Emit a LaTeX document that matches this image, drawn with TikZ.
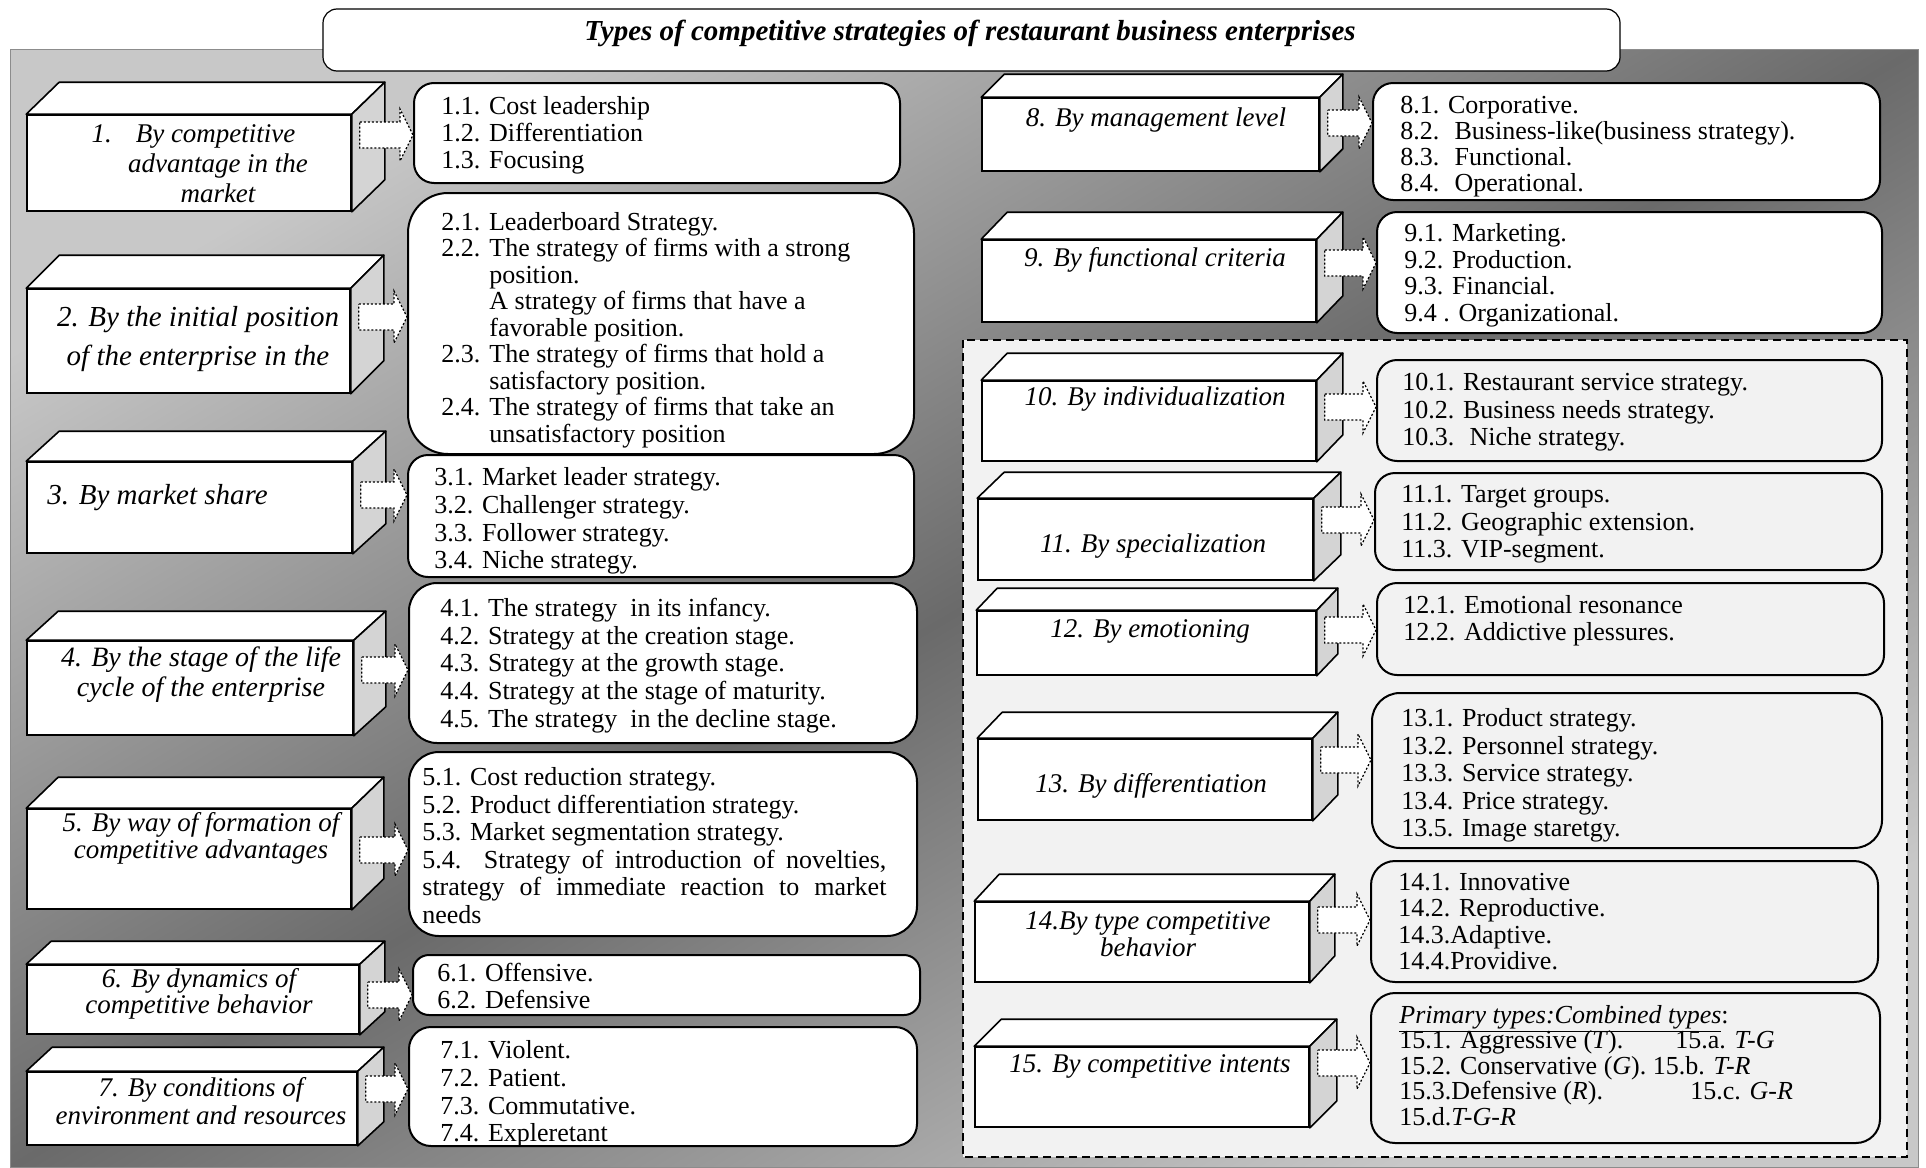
\documentclass[tikz,border=0pt]{standalone}
\usepackage{fontspec}
\setmainfont{Liberation Serif}
\usetikzlibrary{calc,fit}

\definecolor{bglight}{RGB}{200,200,200}
\definecolor{bgdark}{RGB}{106,106,106}
\definecolor{sidegray}{RGB}{212,212,212}
\definecolor{panelgray}{RGB}{242,242,242}

\pgfdeclarehorizontalshading{bgshade}{100bp}{color(0bp)=(bglight); color(25bp)=(bglight); color(50bp)=(bgdark); color(75bp)=(bglight); color(100bp)=(bglight)}

% dotted block arrow from a criterion box to its list
\newcommand{\fatarrow}[3]{%
  \draw[fatarr] ($(#1.east |- 0,#3)+(8,-13)$) -- ($(#2.west |- 0,#3)+(-13,-13)$)
    -- ++(0,-13) -- (#2.west |- 0,#3) -- ++(-13,26) -- ++(0,-13)
    -- ($(#1.east |- 0,#3)+(8,13)$) -- cycle;}

\begin{document}
\begin{tikzpicture}[x=0.5pt,y=-0.5pt]

%
% Styles
%
\tikzstyle{front}   = [draw, fill=white, line width=0.8pt, inner sep=0pt]
\tikzstyle{face}    = [draw, fill=white, line width=0.8pt, line join=round]
\tikzstyle{side}    = [draw, fill=sidegray, line width=0.8pt, line join=round]
\tikzstyle{itembox} = [draw, fill=white, line width=1pt, rounded corners=10pt, inner sep=0pt]
\tikzstyle{greybox} = [itembox, fill=panelgray]
\tikzstyle{crit}    = [align=center, inner sep=0pt, font=\fontsize{13.5}{13.5}\selectfont\itshape]
\tikzstyle{fatarr}  = [draw, fill=white, line width=0.6pt, dash pattern=on 1pt off 1pt]
\tikzset{items/.style={anchor=north west, align=left, inner sep=0pt, font=\fontsize{13}{#1}\selectfont},
         items/.default=13.8pt}

\useasboundingbox (0,0) rectangle (1926,1167);

% background and panel
\shade[shading=bgshade, shading angle=-59.6, draw=black!45] (10,49) rectangle (1918,1167);
\draw[fill=panelgray, line width=0.7pt, dash pattern=on 4pt off 2.5pt] (963,340) rectangle (1907,1157);

\node[draw, fill=white, rounded corners=7pt, line width=0.6pt, inner sep=0pt, fit={(323,9) (1620,71)}] (head) {};
\node[inner sep=0pt, font=\fontsize{14.5}{16}\selectfont\bfseries\itshape] (title) at (970,33)
  {Types of competitive strategies of restaurant business enterprises};

% criteria
\node[front, fit={(27,115) (351,211)}]   (b1)  {};
\node[front, fit={(27,289) (350,393)}]   (b2)  {};
\node[front, fit={(27,462) (352,553)}]   (b3)  {};
\node[front, fit={(27,641) (353,735)}]   (b4)  {};
\node[front, fit={(27,809) (351,909)}]   (b5)  {};
\node[front, fit={(27,965) (359,1034)}]  (b6)  {};
\node[front, fit={(27,1072) (357,1145)}] (b7)  {};
\node[front, fit={(982,98) (1319,171)}]  (b8)  {};
\node[front, fit={(982,240) (1316,322)}] (b9)  {};
\node[front, fit={(982,381) (1316,461)}] (b10) {};
\node[front, fit={(978,499) (1313,580)}] (b11) {};
\node[front, fit={(977,611) (1316,675)}] (b12) {};
\node[front, fit={(978,739) (1312,820)}] (b13) {};
\node[front, fit={(975,902) (1309,982)}] (b14) {};
\node[front, fit={(975,1047) (1309,1127)}] (b15) {};

\foreach \bx/\dx/\dy in {b1/33/32, b2/33/33, b3/33/30, b4/32/29, b5/32/31, b6/25/23, b7/26/24,
                         b8/23/23, b9/26/27, b10/26/27, b11/27/26, b12/21/22, b13/25/26, b14/25/27, b15/27/27}{
  \draw[face] (\bx.north west) -- ++(\dx,-\dy) -- ($(\bx.north east)+(\dx,-\dy)$) -- (\bx.north east) -- cycle;
  \draw[side] (\bx.north east) -- ++(\dx,-\dy) -- ($(\bx.south east)+(\dx,-\dy)$) -- (\bx.south east) -- cycle;
}

\node[crit, font=\fontsize{13.5}{15}\selectfont\itshape] (l1) at (218,164)
  {1.\hspace{12pt}By competitive\hspace*{24.5pt}\\advantage in the\\market};
\node[crit, font=\fontsize{14.5}{19.5}\selectfont\itshape] (l2) at (198,339)
  {2. By the initial position\\of the enterprise in the};
\node[crit, font=\fontsize{14.5}{15}\selectfont\itshape, anchor=west] (l3) at (47,498) {3. By market share};
\node[crit, font=\fontsize{14}{15}\selectfont\itshape] (l4) at (201,675)
  {4. By the stage of the life\\cycle of the enterprise};
\node[crit] (l5) at (201,838) {5. By way of formation of\\competitive advantages};
\node[crit, font=\fontsize{13.5}{13}\selectfont\itshape] (l6) at (199,994) {6. By dynamics of\\competitive behavior};
\node[crit, font=\fontsize{13.5}{14}\selectfont\itshape] (l7) at (201,1101) {7. By conditions of\\environment and resources};
\node[crit] (l8)  at (1156,120) {8. By management level};
\node[crit] (l9)  at (1155,260) {9. By functional criteria};
\node[crit] (l10) at (1155,399) {10. By individualization};
\node[crit] (l11) at (1153,546) {11. By specialization};
\node[crit] (l12) at (1150,631) {12. By emotioning};
\node[crit] (l13) at (1151,786) {13. By differentiation};
\node[crit] (l14) at (1148,934) {14.By type competitive\\behavior};
\node[crit] (l15) at (1150,1066) {15. By competitive intents};

% lists
\node[itembox, fit={(414,83) (900,183)}]                       (r1)  {};
\node[itembox, rounded corners=20pt, fit={(408,193) (914,454)}] (r2)  {};
\node[itembox, fit={(408,455) (914,577)}]                      (r3)  {};
\node[itembox, rounded corners=14pt, fit={(409,583) (917,743)}] (r4)  {};
\node[itembox, rounded corners=15pt, fit={(409,752) (917,936)}] (r5)  {};
\node[itembox, rounded corners=8pt, fit={(413,955) (920,1015)}] (r6)  {};
\node[itembox, rounded corners=11pt, fit={(409,1027) (917,1146)}] (r7) {};
\node[itembox, fit={(1373,83) (1880,200)}]                     (r8)  {};
\node[itembox, fit={(1377,212) (1882,333)}]                    (r9)  {};
\node[greybox, fit={(1377,360) (1882,461)}]                    (r10) {};
\node[greybox, fit={(1375,473) (1882,570)}]                    (r11) {};
\node[greybox, fit={(1377,583) (1884,675)}]                    (r12) {};
\node[greybox, rounded corners=14pt, fit={(1372,693) (1882,848)}] (r13) {};
\node[greybox, rounded corners=12pt, fit={(1371,861) (1878,982)}] (r14) {};
\node[greybox, rounded corners=12pt, fit={(1371,993) (1880,1143)}] (r15) {};

\foreach \bx/\rx/\ay in {b1/r1/135, b2/r2/317, b3/r3/495, b4/r4/670, b5/r5/850, b6/r6/995, b7/r7/1089,
                         b8/r8/123, b9/r9/263, b10/r10/407, b11/r11/520, b12/r12/630, b13/r13/760,
                         b14/r14/920, b15/r15/1063}
  \fatarrow{\bx}{\rx}{\ay};

\node[items=13.5pt] (t1) at (441,96) {1.1. Cost leadership\\1.2. Differentiation\\1.3. Focusing};
\node[items=13.25pt] (t2) at (441,212)
  {2.1. Leaderboard Strategy.\\
   \makebox[24pt][l]{2.2.}The strategy of firms with a strong\\
   \hspace*{24pt}position.\\
   \hspace*{24pt}A strategy of firms that have a\\
   \hspace*{24pt}favorable position.\\
   \makebox[24pt][l]{2.3.}The strategy of firms that hold a\\
   \hspace*{24pt}satisfactory position.\\
   \makebox[24pt][l]{2.4.}The strategy of firms that take an\\
   \hspace*{24pt}unsatisfactory position};
\node[items=13.9pt] (t3) at (434,467)
  {3.1. Market leader strategy.\\3.2. Challenger strategy.\\3.3. Follower strategy.\\3.4. Niche strategy.};
\node[items] (t4) at (440,598)
  {4.1. The strategy\ \ in its infancy.\\4.2. Strategy at the creation stage.\\4.3. Strategy at the growth stage.\\
   4.4. Strategy at the stage of maturity.\\4.5. The strategy\ \ in the decline stage.};
\node[items] (t5) at (422,767)
  {5.1. Cost reduction strategy.\\5.2. Product differentiation strategy.\\5.3. Market segmentation strategy.\\
   \makebox[232pt][s]{5.4.\ \ Strategy of introduction of novelties,}\\
   \makebox[232pt][s]{strategy of immediate reaction to market}\\
   needs};
\node[items=13.5pt] (t6) at (437,963) {6.1. Offensive.\\6.2. Defensive};
\node[items=13.9pt] (t7) at (440,1040) {7.1. Violent.\\7.2. Patient.\\7.3. Commutative.\\7.4. Expleretant};
\node[items=12.9pt] (t8) at (1400,96)
  {8.1. Corporative.\\8.2.~ Business-like(business strategy).\\8.3.~ Functional.\\8.4.~ Operational.};
\node[items=13.3pt] (t9) at (1404,223) {9.1. Marketing.\\9.2. Production.\\9.3. Financial.\\9.4 . Organizational.};
\node[items] (t10) at (1402,373)
  {10.1. Restaurant service strategy.\\10.2. Business needs strategy.\\10.3.~ Niche strategy.};
\node[items] (t11) at (1401,485) {11.1. Target groups.\\11.2. Geographic extension.\\11.3. VIP-segment.};
\node[items=13.5pt] (t12) at (1403,595) {12.1. Emotional resonance\\12.2. Addictive plessures.};
\node[items] (t13) at (1401,708)
  {13.1. Product strategy.\\13.2. Personnel strategy.\\13.3. Service strategy.\\13.4. Price strategy.\\13.5. Image staretgy.};
\node[items=13.1pt] (t14) at (1398,873) {14.1. Innovative\\14.2. Reproductive.\\14.3.Adaptive.\\14.4.Providive.};
\node[items=12.75pt] (t15) at (1399,1005)
  {\raisebox{0pt}[\height][0pt]{\underline{\textit{Primary types:Combined types}}:}\\
   \makebox[138pt][l]{15.1. Aggressive (\textit{T}).}15.a. \textit{T-G}\\
   15.2. Conservative (\textit{G}). 15.b. \textit{T-R}\\
   \makebox[145.5pt][l]{15.3.Defensive (\textit{R}).}15.c. \textit{G-R}\\
   15.d.\textit{T-G-R}};

\end{tikzpicture}
\end{document}
